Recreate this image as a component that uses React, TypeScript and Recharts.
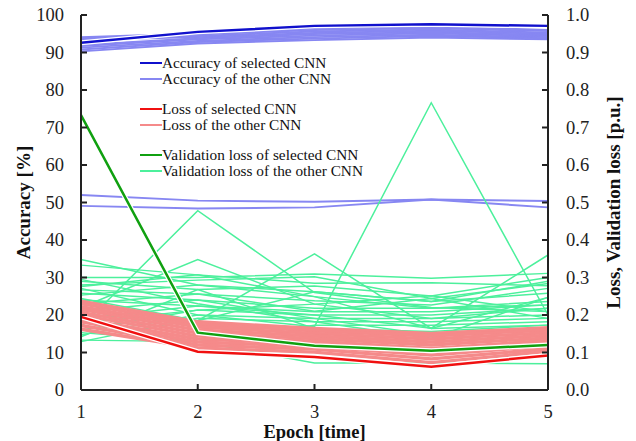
import { LineChart, Line, XAxis, YAxis } from "recharts";

const FONT = "'Liberation Serif', 'Times New Roman', serif";
const AXIS = "#222";

const epochs = [1, 2, 3, 4, 5];
const accuracyTicks = [0, 10, 20, 30, 40, 50, 60, 70, 80, 90, 100];
const lossTicks = [0, 0.1, 0.2, 0.3, 0.4, 0.5, 0.6, 0.7, 0.8, 0.9, 1.0];

// accuracy [%]
const accuracySelected = [92.6, 95.5, 97.1, 97.5, 97.1];
const accuracyOther = [
  [90.3, 92.4, 93.3, 94.0, 93.5],
  [90.8, 92.8, 93.7, 94.4, 93.8],
  [91.3, 93.1, 94.1, 94.7, 94.1],
  [91.7, 93.5, 94.5, 95.1, 94.4],
  [92.0, 93.8, 94.9, 95.4, 94.7],
  [93.3, 94.1, 95.2, 95.8, 95.0],
  [93.6, 94.4, 95.6, 96.1, 95.3],
  [93.9, 94.8, 96.0, 96.5, 95.7],
  [94.1, 95.1, 96.4, 96.9, 96.0],
  [52.0, 50.5, 50.2, 50.8, 50.4],
  [49.1, 48.4, 48.7, 50.8, 48.7],
];

// loss [p.u.]
const lossSelected = [0.195, 0.102, 0.088, 0.062, 0.092];
const lossOther = [
  [0.237, 0.182, 0.164, 0.151, 0.166],
  [0.23, 0.175, 0.158, 0.144, 0.16],
  [0.222, 0.168, 0.151, 0.136, 0.153],
  [0.215, 0.16, 0.144, 0.128, 0.146],
  [0.207, 0.152, 0.137, 0.12, 0.139],
  [0.2, 0.144, 0.13, 0.111, 0.132],
  [0.19, 0.136, 0.123, 0.102, 0.125],
  [0.182, 0.128, 0.116, 0.093, 0.118],
  [0.172, 0.12, 0.109, 0.083, 0.11],
  [0.162, 0.112, 0.101, 0.073, 0.103],
];

// validation loss [p.u.]
const valLossSelected = [0.733, 0.153, 0.118, 0.105, 0.12];
const valLossOther = [
  [0.168, 0.478, 0.26, 0.22, 0.209],
  [0.348, 0.28, 0.249, 0.218, 0.227],
  [0.22, 0.348, 0.229, 0.191, 0.218],
  [0.244, 0.185, 0.363, 0.164, 0.247],
  [0.271, 0.2, 0.169, 0.766, 0.2],
  [0.19, 0.224, 0.2, 0.165, 0.36],
  [0.333, 0.307, 0.285, 0.286, 0.278],
  [0.3, 0.3, 0.309, 0.298, 0.311],
  [0.29, 0.268, 0.277, 0.251, 0.3],
  [0.28, 0.293, 0.302, 0.244, 0.284],
  [0.253, 0.28, 0.262, 0.236, 0.258],
  [0.267, 0.256, 0.238, 0.227, 0.271],
  [0.258, 0.24, 0.218, 0.218, 0.236],
  [0.24, 0.224, 0.209, 0.209, 0.227],
  [0.16, 0.213, 0.2, 0.2, 0.218],
  [0.147, 0.2, 0.191, 0.191, 0.2],
  [0.129, 0.191, 0.182, 0.182, 0.191],
  [0.153, 0.129, 0.173, 0.173, 0.182],
  [0.142, 0.268, 0.164, 0.156, 0.173],
  [0.133, 0.129, 0.072, 0.072, 0.07],
  [0.21, 0.24, 0.191, 0.147, 0.164],
  [0.295, 0.23, 0.182, 0.138, 0.247],
  [0.23, 0.256, 0.21, 0.244, 0.191],
  [0.276, 0.307, 0.249, 0.164, 0.173],
  [0.18, 0.213, 0.229, 0.251, 0.209],
  [0.2, 0.185, 0.262, 0.236, 0.29],
];

const data = epochs.map((epoch, i) => {
  const row: Record<string, number> = {
    epoch,
    accSel: accuracySelected[i],
    lossSel: lossSelected[i],
    valSel: valLossSelected[i],
  };
  accuracyOther.forEach((s, k) => (row[`acc${k}`] = s[i]));
  lossOther.forEach((s, k) => (row[`loss${k}`] = s[i]));
  valLossOther.forEach((s, k) => (row[`val${k}`] = s[i]));
  return row;
});

const COLORS = {
  accSel: "#1010cc",
  accOther: "#8787f2",
  lossSel: "#f01010",
  lossOther: "#f58a8a",
  valSel: "#10a010",
  valOther: "#4cf09c",
};

const legendItems = [
  [
    { label: "Accuracy of selected CNN", color: COLORS.accSel },
    { label: "Accuracy of the other CNN", color: COLORS.accOther },
  ],
  [
    { label: "Loss of selected CNN", color: COLORS.lossSel },
    { label: "Loss of the other CNN", color: COLORS.lossOther },
  ],
  [
    { label: "Validation loss of selected CNN", color: COLORS.valSel },
    { label: "Validation loss of the other CNN", color: COLORS.valOther },
  ],
];

const TICK_LEN = 6;

function LeftTick(props: any) {
  const { x, y, payload } = props;
  const ax = x + 17;
  return (
    <g>
      <line x1={ax} x2={ax + TICK_LEN} y1={y} y2={y} stroke={AXIS} strokeWidth={2} />
      <text x={x} y={y} dy="0.35em" textAnchor="end" fontSize={18.5} fill="#222" fontFamily={FONT}>
        {payload.value}
      </text>
    </g>
  );
}

function RightTick(props: any) {
  const { x, y, payload } = props;
  const ax = x - 18;
  return (
    <g>
      <line x1={ax - TICK_LEN} x2={ax} y1={y} y2={y} stroke={AXIS} strokeWidth={2} />
      <text x={x} y={y} dy="0.35em" textAnchor="start" fontSize={18.5} fill="#222" fontFamily={FONT}>
        {Number(payload.value).toFixed(1)}
      </text>
    </g>
  );
}

function BottomTick(props: any) {
  const { x, y, payload } = props;
  const ay = y - 15;
  return (
    <g>
      <line x1={x} x2={x} y1={ay} y2={ay - TICK_LEN} stroke={AXIS} strokeWidth={2} />
      <text x={x} y={y} dy="0.71em" textAnchor="middle" fontSize={18.5} fill="#222" fontFamily={FONT}>
        {payload.value}
      </text>
    </g>
  );
}

function axisTitle(text: string, dxFromAxis: number, vertical: boolean) {
  return (props: any) => {
    const vb = props.viewBox;
    if (vertical) {
      const cx = vb.x + dxFromAxis;
      const cy = vb.y + vb.height / 2;
      return (
        <text
          x={cx}
          y={cy}
          transform={`rotate(-90, ${cx}, ${cy})`}
          textAnchor="middle"
          dominantBaseline="central"
          fontSize={19}
          fontWeight="bold"
          fontFamily={FONT}
          fill="#111"
        >
          {text}
        </text>
      );
    }
    return (
      <text
        x={vb.x + vb.width / 2}
        y={vb.y + 48}
        textAnchor="middle"
        fontSize={18.5}
        fontWeight="bold"
        fontFamily={FONT}
        fill="#111"
      >
        {text}
      </text>
    );
  };
}

function Legend() {
  return (
    <div
      style={{
        position: "absolute",
        left: 140,
        top: 55,
        fontFamily: FONT,
        fontSize: 15.3,
        color: "#111",
        pointerEvents: "none",
      }}
    >
      {legendItems.map((group, g) => (
        <div key={g} style={{ marginBottom: 14 }}>
          {group.map((item) => (
            <div key={item.label} style={{ display: "flex", alignItems: "center", height: 16 }}>
              <span
                style={{
                  display: "inline-block",
                  width: 22,
                  height: 2.5,
                  background: item.color,
                }}
              />
              <span style={{ whiteSpace: "nowrap", lineHeight: "16px" }}>{item.label}</span>
            </div>
          ))}
        </div>
      ))}
    </div>
  );
}

export default function App() {
  return (
    <div style={{ position: "absolute", left: 0, top: 0, width: 636, height: 441, background: "#fff" }}>
      <LineChart width={636} height={441} data={data} margin={{ top: 15, right: 0, bottom: 0, left: 0 }}>
        <XAxis
          dataKey="epoch"
          type="number"
          domain={[1, 5]}
          ticks={epochs}
          interval={0}
          height={51}
          tickSize={0}
          tickMargin={15}
          tick={<BottomTick />}
          axisLine={{ stroke: AXIS, strokeWidth: 2 }}
          label={axisTitle("Epoch [time]", 0, false)}
        />
        <YAxis
          yAxisId="acc"
          orientation="left"
          domain={[0, 100]}
          ticks={accuracyTicks}
          interval={0}
          width={81}
          tickSize={0}
          tickMargin={17}
          tick={<LeftTick />}
          axisLine={{ stroke: AXIS, strokeWidth: 2 }}
          label={axisTitle("Accuracy [%]", 23, true)}
        />
        <YAxis
          yAxisId="loss"
          orientation="right"
          domain={[0, 1]}
          ticks={lossTicks}
          interval={0}
          width={88}
          tickSize={0}
          tickMargin={18}
          tick={<RightTick />}
          axisLine={{ stroke: AXIS, strokeWidth: 2 }}
          label={axisTitle("Loss, Validation loss [p.u.]", 65, true)}
        />

        {accuracyOther.map((_, k) => (
          <Line
            key={`acc${k}`}
            yAxisId="acc"
            dataKey={`acc${k}`}
            stroke={COLORS.accOther}
            strokeWidth={2}
            dot={false}
            activeDot={false}
            isAnimationActive={false}
          />
        ))}
        {valLossOther.map((_, k) => (
          <Line
            key={`val${k}`}
            yAxisId="loss"
            dataKey={`val${k}`}
            stroke={COLORS.valOther}
            strokeWidth={1.5}
            dot={false}
            activeDot={false}
            isAnimationActive={false}
          />
        ))}
        {lossOther.map((_, k) => (
          <Line
            key={`loss${k}`}
            yAxisId="loss"
            dataKey={`loss${k}`}
            stroke={COLORS.lossOther}
            strokeWidth={3.3}
            dot={false}
            activeDot={false}
            isAnimationActive={false}
          />
        ))}

        <Line yAxisId="loss" dataKey="valSel" stroke="#fff" strokeWidth={5} dot={false} activeDot={false} isAnimationActive={false} />
        <Line yAxisId="loss" dataKey="valSel" stroke={COLORS.valSel} strokeWidth={2.5} dot={false} activeDot={false} isAnimationActive={false} />
        <Line yAxisId="loss" dataKey="lossSel" stroke="#fff" strokeWidth={5} dot={false} activeDot={false} isAnimationActive={false} />
        <Line yAxisId="loss" dataKey="lossSel" stroke={COLORS.lossSel} strokeWidth={2.5} dot={false} activeDot={false} isAnimationActive={false} />
        <Line yAxisId="acc" dataKey="accSel" stroke="#fff" strokeWidth={5} dot={false} activeDot={false} isAnimationActive={false} />
        <Line yAxisId="acc" dataKey="accSel" stroke={COLORS.accSel} strokeWidth={2.5} dot={false} activeDot={false} isAnimationActive={false} />
      </LineChart>
      <Legend />
    </div>
  );
}
